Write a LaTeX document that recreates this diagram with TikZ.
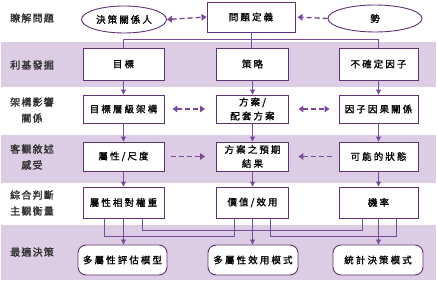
\documentclass[tikz,border=0pt]{standalone}
\usepackage{fontspec}
\newfontfamily\cjk[LetterSpace=22,FakeBold=1.1]{Noto Sans CJK TC}
\newfontfamily\cjkl[LetterSpace=12,FakeBold=1.8]{Noto Sans CJK TC}
\usetikzlibrary{arrows.meta,shapes.geometric}
\definecolor{bandc}{HTML}{DCCCE4}
\definecolor{boxc}{HTML}{5E3275}
\definecolor{arrc}{HTML}{7A4B9A}
\definecolor{labc}{HTML}{333333}
\begin{document}
\begin{tikzpicture}[x=1pt,y=-1pt,
  band/.style={fill=bandc,draw=none},
  box/.style={draw=boxc,line width=0.9pt,fill=white,inner sep=0pt,align=center,
    font=\cjk\fontsize{9.5}{14}\selectfont,text=black},
  oval/.style={box,ellipse},
  rbox/.style={box,rounded corners=8pt},
  lab/.style={align=center,inner sep=0pt,font=\cjkl\fontsize{10}{16}\selectfont,text=labc},
  sline/.style={draw=arrc,line width=0.9pt},
  sarr/.style={sline,-{Triangle[length=5pt,width=5pt]}},
  darr/.style={draw=arrc,line width=1.4pt,dash pattern=on 5pt off 3pt,
    arrows={-Triangle[length=5pt,width=6.5pt]}},
  ddarr/.style={darr,arrows={Triangle[length=5pt,width=6.5pt]-Triangle[length=5pt,width=6.5pt]}}
]
\useasboundingbox (0,0) rectangle (437,283);
% bands
\fill[band] (1,42) rectangle (436,87);
\fill[band] (1,135) rectangle (436,183);
\fill[band] (1,225) rectangle (436,280);
% left labels
\node[lab] (l1) at (32,18) {瞭解問題};
\node[lab] (l2) at (32,65) {利基發掘};
\node[lab] (l3) at (32,110) {架構影響\\關係};
\node[lab] (l4) at (32,157) {客觀敘述\\感受};
\node[lab] (l5) at (32,203) {綜合判斷\\主觀衡量};
\node[lab] (l6) at (32,252) {最適決策};
% row 1
\node[oval,minimum width=85,minimum height=27] (stake) at (124,19.5) {決策關係人};
\node[box,minimum width=88,minimum height=30] (def) at (251,17) {問題定義};
\node[oval,minimum width=94,minimum height=27] (shi) at (375,18.5) {勢};
% row 2
\node[box,minimum width=81,minimum height=32] (goal) at (123.5,64) {目標};
\node[box,minimum width=72,minimum height=32] (strat) at (252.5,64) {策略};
\node[box,minimum width=79,minimum height=32] (unc) at (378.5,64) {不確定因子};
% row 3
\node[box,minimum width=81,minimum height=28] (hier) at (123.5,109) {目標層級架構};
\node[box,minimum width=72,minimum height=28] (alt) at (252.5,109) {方案/\\配套方案};
\node[box,minimum width=79,minimum height=28] (cause) at (378.5,109) {因子因果關係};
% row 4
\node[box,minimum width=81,minimum height=29] (attr) at (123.5,156.5) {屬性/尺度};
\node[box,minimum width=72,minimum height=29] (outc) at (252.5,156.5) {方案之預期\\結果};
\node[box,minimum width=79,minimum height=29] (state) at (378.5,156.5) {可能的狀態};
% row 5
\node[box,minimum width=81,minimum height=31] (wt) at (123.5,202.5) {屬性相對權重};
\node[box,minimum width=72,minimum height=31] (val) at (252.5,202.5) {價值/效用};
\node[box,minimum width=79,minimum height=31] (prob) at (378.5,202.5) {機率};
% row 6
\node[rbox,minimum width=89,minimum height=30] (m1) at (122.5,260) {多屬性評估模型};
\node[rbox,minimum width=90,minimum height=30] (m2) at (253,260) {多屬性效用模式};
\node[rbox,minimum width=90,minimum height=30] (m3) at (378,260) {統計決策模式};
% dashed arrows
\draw[ddarr] (stake.east) -- (def.west);
\draw[darr,shorten >=2pt] (shi.west) -- (def.east);
\draw[ddarr,shorten <=8pt,shorten >=11pt] (hier.east) -- (alt.west);
\draw[ddarr,shorten <=9.5pt,shorten >=9pt] (alt.east) -- (cause.west);
\draw[darr,shorten <=7pt,shorten >=11pt] (attr.east) -- (outc.west);
\draw[darr,shorten <=7pt,shorten >=9.5pt] (state.west) -- (outc.east);
% row1 -> row2
\draw[sline] (def.south) -- (def.south |- strat.north);
\draw[sline] (goal.north) -- ++(0,-8) -| (unc.north);
% vertical arrows
\draw[sarr] (goal.south) -- (hier.north);
\draw[sarr] (strat.south) -- (alt.north);
\draw[sarr] (unc.south) -- (cause.north);
\draw[sarr] (hier.south) -- (attr.north);
\draw[sarr] (alt.south) -- (outc.north);
\draw[sarr] (cause.south) -- (state.north);
\draw[sarr] (attr.south) -- (wt.north);
\draw[sarr] (outc.south) -- (val.north);
\draw[sarr] (state.south) -- (prob.north);
% row5 -> row6
\draw[sline] ([xshift=-19.5pt]wt.south) -- ++(0,18) -| ([xshift=-18.5pt]val.south);
\draw[sline] ([xshift=18.5pt]wt.south) -- ++(0,12) -| ([xshift=-16.5pt]prob.south);
\draw[sline] ([xshift=17.5pt]val.south) -- ++(0,18) -| ([xshift=17.5pt]prob.south);
\draw[sarr] (wt.south) -- (wt.south |- m1.north);
\draw[sarr] (val.south) -- (val.south |- m2.north);
\draw[sarr] (prob.south) -- (prob.south |- m3.north);
\end{tikzpicture}
\end{document}
